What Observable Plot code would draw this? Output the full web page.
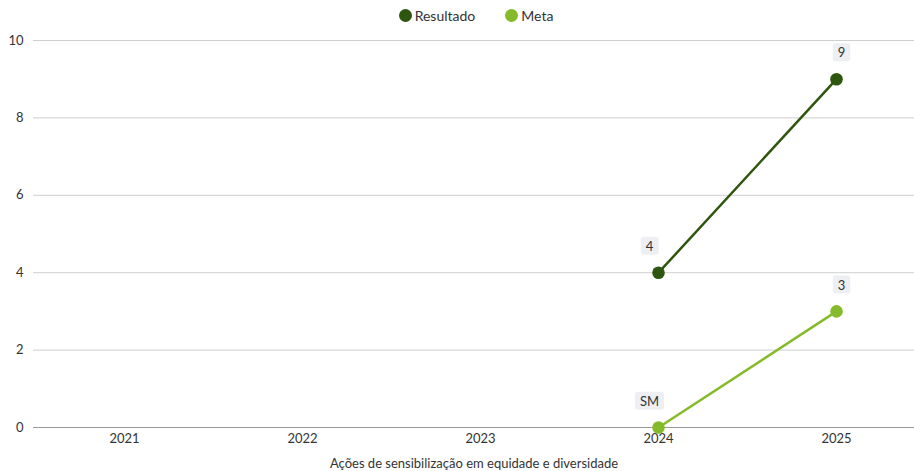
<!DOCTYPE html>
<html>
<head>
<meta charset="utf-8">
<script src="https://cdn.jsdelivr.net/npm/d3@7"></script>
<script src="https://cdn.jsdelivr.net/npm/@observablehq/plot@0.6"></script>
<style>
  html, body { margin: 0; padding: 0; background: #fff; }
  body { width: 914px; font-family: Lato, "Noto Sans", sans-serif; color: #333; }
  #legend { height: 30px; display: flex; justify-content: center; align-items: center; font-size: 14px; padding-left: 38px; box-sizing: border-box; }
  .item { display: flex; align-items: center; margin: 0 15px; }
  .sw { width: 13px; height: 13px; border-radius: 50%; display: inline-block; margin-right: 3px; }
  #chart svg { display: block; }
</style>
</head>
<body>
<div id="legend"></div>
<div id="chart"></div>
<script>
const years = ["2021", "2022", "2023", "2024", "2025"];
const yTicks = [0, 2, 4, 6, 8, 10];
const seriesNames = ["Resultado", "Meta"];
const seriesColors = ["#2f560f", "#85bb2a"];
const resultadoYears = ["2024", "2025"];
const resultadoValues = [4, 9];
const resultadoLabels = ["4", "9"];
const metaYears = ["2024", "2025"];
const metaValues = [0, 3];
const metaLabels = ["SM", "3"];
const axisTitle = "Ações de sensibilização em equidade e diversidade";

const resultado = resultadoYears.map((y, i) => ({year: y, value: resultadoValues[i], label: resultadoLabels[i], series: seriesNames[0]}));
const meta = metaYears.map((y, i) => ({year: y, value: metaValues[i], label: metaLabels[i], series: seriesNames[1]}));
const all = [...resultado, ...meta];

// legend
const legend = document.getElementById("legend");
seriesNames.forEach((n, i) => {
  const it = document.createElement("div");
  it.className = "item";
  it.innerHTML = `<span class="sw" style="background:${seriesColors[i]}"></span><span>${n}</span>`;
  legend.appendChild(it);
});

const labelMarks = (data, dx) => Plot.text(data, {
  x: "year", y: "value", text: "label", dx, dy: -26,
  fill: "#333", fontSize: 13
});

const chart = Plot.plot({
  width: 914,
  height: 441,
  marginTop: 10,
  marginBottom: 44,
  marginLeft: 33,
  marginRight: 0,
  style: {fontFamily: "Lato, 'Noto Sans', sans-serif", fontSize: "13px", color: "#333"},
  x: {type: "point", domain: years, range: [122, 837], padding: 0},
  y: {domain: [0, 10]},
  color: {domain: seriesNames, range: seriesColors},
  marks: [
    Plot.gridY(yTicks.filter(d => d !== 0), {stroke: "#cfcfcf", strokeOpacity: 1}),
    Plot.ruleY([0], {stroke: "#9a9a9a", strokeWidth: 1.2}),
    Plot.axisY(yTicks, {tickSize: 0, tickPadding: 10, fontSize: 13, label: null}),
    Plot.axisX({tickSize: 0, tickPadding: 6, fontSize: 13, label: axisTitle, labelAnchor: "center", labelOffset: 40, labelArrow: "none"}),
    Plot.line(all, {x: "year", y: "value", z: "series", stroke: "series", strokeWidth: 2.5}),
    Plot.dot(all, {x: "year", y: "value", fill: "series", r: 6.3}),
    labelMarks(all.filter(d => d.year === "2024"), -9),
    labelMarks(all.filter(d => d.year === "2025"), 5)
  ]
});
document.getElementById("chart").appendChild(chart);

// rounded backgrounds behind value labels
chart.querySelectorAll('g[aria-label="text"] text').forEach(t => {
  const b = t.getBBox();
  const h = 18, w = Math.max(b.width + 10, 17);
  const cx = b.x + b.width / 2, cy = b.y + b.height / 2;
  const r = document.createElementNS("http://www.w3.org/2000/svg", "rect");
  r.setAttribute("x", cx - w / 2);
  r.setAttribute("y", cy - h / 2);
  r.setAttribute("width", w);
  r.setAttribute("height", h);
  r.setAttribute("rx", 3);
  r.setAttribute("fill", "#edeff2");
  const tr = t.getAttribute("transform");
  if (tr) r.setAttribute("transform", tr);
  t.parentNode.insertBefore(r, t);
});
</script>
</body>
</html>
